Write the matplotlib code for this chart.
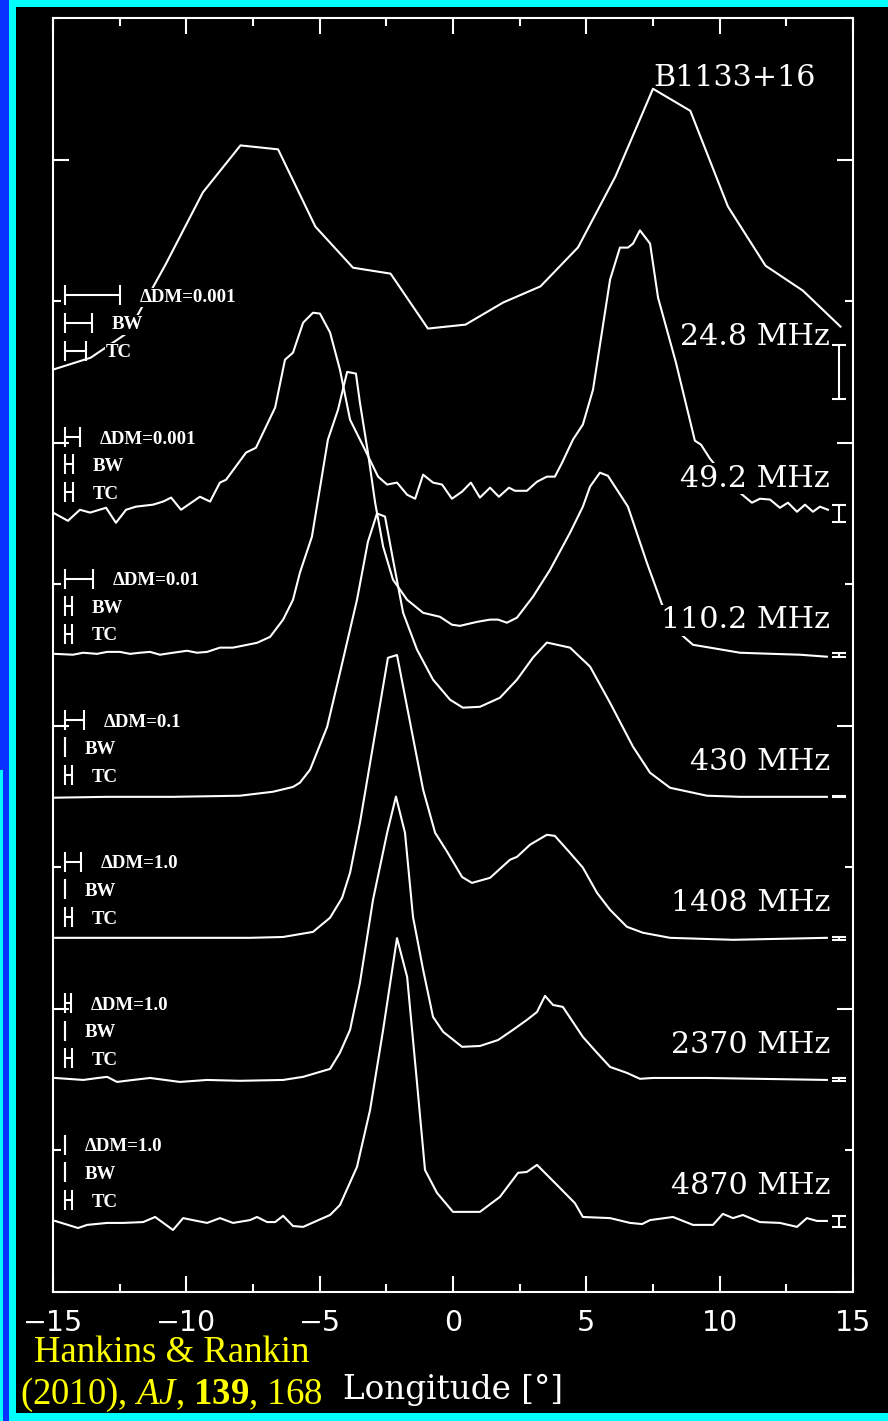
"""
Multi-frequency average profiles of B1133+16, stacked with offsets,
redrawn after Hankins & Rankin (2010).
"""

import matplotlib.pyplot as plt
from matplotlib.patches import Rectangle
from matplotlib.ticker import MultipleLocator

# ---- data (longitude in degrees, amplitude normalised to peak = 1) ----
LON_24 = [-15.0, -13.59, -12.19, -10.78, -9.38, -7.97, -6.56, -5.16, -3.75, -2.34, -0.94,
          0.47, 1.88, 3.28, 4.69, 6.09, 7.5, 8.9, 10.31, 11.72, 13.12, 14.53]
AMP_24 = [0.008, 0.05, 0.139, 0.379, 0.634, 0.80, 0.786, 0.513, 0.368, 0.347, 0.153,
          0.167, 0.245, 0.302, 0.44, 0.69, 1.0, 0.922, 0.584, 0.375, 0.287, 0.16]

LON_49 = [-15.0, -14.44, -13.99, -13.61, -13.01, -12.64, -12.26, -11.89, -11.25, -10.87,
          -10.57, -10.2, -9.49, -9.11, -8.74, -8.51, -7.76, -7.39, -6.67, -6.3, -6.0,
          -5.62, -5.25, -4.99, -4.61, -4.24, -3.86, -3.3, -2.81, -2.47, -2.1, -1.72,
          -1.42, -1.12, -0.75, -0.41, -0.04, 0.34, 0.67, 1.01, 1.39, 1.72, 2.1, 2.32,
          2.77, 3.15, 3.52, 3.82, 4.09, 4.5, 4.87, 5.25, 5.89, 6.26, 6.56, 6.75, 7.01,
          7.39, 7.69, 8.36, 9.07, 9.3, 9.64, 10.58, 11.21, 11.51, 11.89, 12.26, 12.56,
          12.9, 13.2, 13.5, 13.76, 14.06]
AMP_49 = [0.003, -0.026, 0.013, 0.003, 0.02, -0.033, 0.013, 0.024, 0.031, 0.042,
          0.056, 0.013, 0.059, 0.042, 0.109, 0.119, 0.215, 0.232, 0.374, 0.543, 0.568,
          0.674, 0.709, 0.706, 0.639, 0.508, 0.331, 0.225, 0.13, 0.102, 0.109, 0.066,
          0.052, 0.137, 0.109, 0.102, 0.052, 0.077, 0.109, 0.056, 0.091, 0.059, 0.091, 0.08,
          0.08, 0.112, 0.13, 0.13, 0.179, 0.261, 0.314, 0.437, 0.826, 0.939, 0.939, 0.953, 1.0,
          0.953, 0.762, 0.533, 0.257, 0.243, 0.193, 0.087, 0.038, 0.052, 0.049, 0.02, 0.038,
          0.006, 0.031, 0.006, 0.024, 0.013]

LON_110 = [-14.92, -14.25, -13.87, -13.35, -12.97, -12.49, -12.11, -11.74, -11.36, -10.99,
           -10.5, -9.97, -9.6, -9.22, -8.74, -8.25, -7.72, -7.35, -6.86, -6.37, -6.0,
           -5.74, -5.29, -4.69, -4.31, -3.97, -3.64, -3.49, -3.19, -2.92, -2.62, -2.25,
           -1.72, -1.12, -0.49, -0.04, 0.26, 0.9, 1.39, 1.69, 2.02, 2.4, 3.0, 3.64, 4.39,
           4.87, 5.14, 5.51, 5.81, 6.56, 7.27, 7.84, 8.44, 9.0, 9.64, 10.76, 12.0, 13.01, 14.02]
AMP_110 = [0.004, 0.001, 0.008, 0.004, 0.011, 0.011, 0.004, 0.008, 0.011, 0.001,
           0.008, 0.015, 0.008, 0.011, 0.026, 0.026, 0.036, 0.043, 0.064, 0.125, 0.195,
           0.291, 0.418, 0.761, 0.867, 1.0, 0.994, 0.891, 0.715, 0.538, 0.383, 0.266,
           0.195, 0.149, 0.135, 0.107, 0.103, 0.117, 0.125, 0.125, 0.114, 0.132, 0.206, 0.301,
           0.432, 0.524, 0.595, 0.644, 0.633, 0.524, 0.326, 0.178, 0.082, 0.036, 0.026, 0.008,
           0.004, 0.001, -0.006]

LON_430 = [-14.92, -12.97, -10.5, -7.99, -6.75, -6.0, -5.74, -5.36, -4.72, -4.24, -3.6,
           -3.19, -2.85, -2.55, -2.25, -1.87, -1.35, -0.75, -0.11, 0.37, 1.01, 1.76, 2.4,
           3.0, 3.52, 4.39, 5.14, 5.89, 6.75, 7.39, 8.14, 9.52, 10.76, 14.02]
AMP_430 = [-0.004, -0.001, -0.001, 0.003, 0.017, 0.034, 0.049, 0.095, 0.246, 0.437, 0.695,
           0.9, 1.0, 0.989, 0.837, 0.649, 0.519, 0.413, 0.342, 0.314, 0.317, 0.349, 0.413,
           0.491, 0.544, 0.526, 0.459, 0.331, 0.176, 0.084, 0.031, 0.003, -0.001, -0.001]

LON_1408 = [-14.92, -11.74, -7.61, -6.37, -5.25, -4.61, -4.16, -3.86, -3.49, -2.44, -2.1,
            -1.12, -0.67, -0.22, 0.34, 0.71, 1.39, 2.14, 2.4, 2.89, 3.52, 3.82, 4.39, 4.87,
            5.4, 5.89, 6.52, 7.12, 8.14, 10.5, 14.02]
AMP_1408 = [0.001, 0.001, 0.001, 0.004, 0.022, 0.072, 0.142, 0.231, 0.407, 0.99, 1.0,
            0.524, 0.372, 0.305, 0.216, 0.195, 0.213, 0.277, 0.287, 0.33, 0.365, 0.361,
            0.301, 0.249, 0.16, 0.1, 0.04, 0.019, 0.001, -0.006, 0.001]

LON_2370 = [-14.92, -13.87, -13.31, -12.97, -12.6, -12.0, -11.36, -10.24, -9.22, -7.99,
            -6.37, -5.62, -4.61, -4.24, -3.86, -3.49, -3.0, -2.47, -2.14, -1.8, -1.5, -1.12,
            -0.75, -0.37, 0.34, 1.01, 1.69, 2.25, 2.77, 3.15, 3.45, 3.75, 4.12, 4.87, 5.4,
            5.89, 6.52, 7.01, 7.5, 9.52, 14.02]
AMP_2370 = [0.006, -0.001, 0.006, 0.01, -0.008, -0.001, 0.006, -0.008, -0.001, -0.004,
            -0.001, 0.01, 0.038, 0.095, 0.176, 0.342, 0.635, 0.872, 1.0, 0.872, 0.575, 0.388,
            0.222, 0.169, 0.116, 0.119, 0.14, 0.176, 0.211, 0.239, 0.296, 0.264, 0.257, 0.151,
            0.095, 0.045, 0.024, 0.003, 0.006, 0.006, -0.001]

LON_4870 = [-14.92, -14.06, -13.72, -12.97, -12.37, -11.62, -11.17, -10.5, -10.12, -9.6,
            -9.22, -8.74, -8.25, -7.61, -7.35, -6.97, -6.67, -6.37, -6.0, -5.62, -4.61,
            -4.24, -3.6, -3.11, -2.62, -2.1, -1.72, -1.35, -1.05, -0.6, 0.0, 1.01, 1.76,
            2.44, 2.77, 3.15, 3.9, 4.57, 4.87, 5.89, 6.64, 7.09, 7.39, 8.25, 9.0, 9.75,
            10.12, 10.5, 10.87, 11.51, 12.26, 12.9, 13.27, 13.65, 14.02]
AMP_4870 = [0.001, -0.024, -0.013, -0.006, -0.006, -0.003, 0.015, -0.031, 0.011, 0.001,
            -0.006, 0.011, -0.006, 0.004, 0.015, -0.003, -0.003, 0.019, -0.017, -0.02, 0.022,
            0.057, 0.192, 0.393, 0.676, 1.0, 0.863, 0.489, 0.181, 0.1, 0.033, 0.033, 0.086,
            0.171, 0.174, 0.199, 0.128, 0.064, 0.015, 0.011, -0.006, -0.01, 0.004, 0.015,
            -0.013, -0.013, 0.026, 0.011, 0.022, -0.003, -0.006, -0.02, 0.011, 0.001, 0.001]

FREQ_LABELS = ["24.8 MHz", "49.2 MHz", "110.2 MHz", "430 MHz", "1408 MHz", "2370 MHz", "4870 MHz"]
DM_LABELS = ["\u0394DM=0.001", "\u0394DM=0.001", "\u0394DM=0.01", "\u0394DM=0.1",
             "\u0394DM=1.0", "\u0394DM=1.0", "\u0394DM=1.0"]
DM_WIDTH = [2.06, 0.56, 1.05, 0.71, 0.60, 0.22, 0.0]    # degrees
BW_WIDTH = [1.01, 0.30, 0.26, 0.0, 0.0, 0.0, 0.0]
TC_WIDTH = [0.79, 0.30, 0.26, 0.26, 0.26, 0.26, 0.26]
ERR_HALF = [0.094, 0.031, 0.006, 0.002, 0.005, 0.006, 0.019]   # off-pulse rms, amp units

PROFILES = [(LON_24, AMP_24), (LON_49, AMP_49), (LON_110, AMP_110), (LON_430, AMP_430),
            (LON_1408, AMP_1408), (LON_2370, AMP_2370), (LON_4870, AMP_4870)]

W, H = 888, 1421
SCALE = 2.0          # peak height in offset units
LW = 1.5


def main():
    plt.rcParams.update({
        "mathtext.fontset": "custom",
        "mathtext.rm": "Liberation Serif",
        "mathtext.it": "Liberation Serif:italic",
        "mathtext.bf": "Liberation Serif:bold",
    })

    fig = plt.figure(figsize=(W / 100, H / 100), dpi=100, facecolor="black")
    ax = fig.add_axes([53 / W, 1 - 1292 / H, 800 / W, 1274 / H])
    ax.set_facecolor("black")
    ax.set_xlim(-15, 15)
    ax.set_ylim(0, 9)

    n = len(PROFILES)
    for i, (lon, amp) in enumerate(PROFILES):
        base = n - 1 - i + 0.5
        ax.plot(lon, [base + SCALE * a for a in amp], color="white", lw=LW, zorder=2)

        # off-pulse error bar at the right
        ax.errorbar(14.46, base, yerr=SCALE * ERR_HALF[i], fmt="none", ecolor="white",
                    elinewidth=LW, capsize=4.7, capthick=LW, zorder=3)

        ax.text(14.14, base + 0.19, FREQ_LABELS[i], ha="right", va="baseline",
                family="DejaVu Serif", fontsize=21.7, color="white", zorder=5,
                bbox=dict(fc="black", ec="none", pad=1))

        # smearing indicators
        rows = [(DM_WIDTH[i], DM_LABELS[i], 0.54), (BW_WIDTH[i], "BW", 0.347),
                (TC_WIDTH[i], "TC", 0.15)]
        for w, label, dy in rows:
            x0 = -14.55
            ax.errorbar(x0 + w / 2, base + dy, xerr=w / 2, fmt="none", ecolor="white",
                        elinewidth=LW, capsize=7.5, capthick=LW, zorder=3)
            ax.text(x0 + w + 0.75, base + dy - 0.047, label, ha="left", va="baseline",
                    family="Liberation Serif", fontweight="bold", fontsize=13.6,
                    color="white", zorder=5, bbox=dict(fc="black", ec="none", pad=1))

    ax.text(7.5, 8.52, "B1133+16", ha="left", va="baseline", family="DejaVu Serif",
            fontsize=21.7, color="white", zorder=5)

    ax.xaxis.set_major_locator(MultipleLocator(5))
    ax.xaxis.set_minor_locator(MultipleLocator(2.5))
    ax.yaxis.set_major_locator(MultipleLocator(2))
    ax.yaxis.set_minor_locator(MultipleLocator(1))
    ax.tick_params(which="both", direction="in", top=True, right=True, color="white",
                   width=LW)
    ax.tick_params(which="major", length=11.5)
    ax.tick_params(which="minor", length=6)
    ax.tick_params(axis="x", labelsize=20.5, labelcolor="white", pad=12)
    ax.tick_params(axis="y", labelleft=False)
    for s in ax.spines.values():
        s.set_color("white")
        s.set_linewidth(LW)

    ax.set_xlabel("Longitude [\u00b0]", family="DejaVu Serif", fontsize=23.5,
                  color="white", va="baseline")
    ax.xaxis.set_label_coords(0.5, (1292 - 1399) / 1274)

    # citation in yellow
    fig.text(34 / W, 1 - 1362 / H, "Hankins & Rankin", family="Liberation Serif",
             fontsize=26.5, color="yellow", ha="left", va="baseline")
    fig.text(20 / W, 1 - 1404 / H, r"(2010), $\mathit{AJ}$, $\mathbf{139}$, 168",
             family="Liberation Serif", fontsize=26.5, color="yellow", ha="left",
             va="baseline")

    # slide frame
    def box(x0, y0, x1, y1, color):
        fig.add_artist(Rectangle((x0 / W, 1 - y1 / H), (x1 - x0) / W, (y1 - y0) / H,
                                 transform=fig.transFigure, fc=color, ec="none", zorder=10))

    cyan, blue = "#00FFFF", "#0A32FF"
    box(0, 0, W, 7, cyan)
    box(0, 1413, W, H, cyan)
    box(8.5, 0, 16, H, cyan)
    box(0, 0, 8.5, 770, blue)
    box(0, 770, 3, H, cyan)
    box(3, 770, 9, H, blue)

    fig.savefig("out.png", dpi=100, facecolor="black")


if __name__ == "__main__":
    main()
